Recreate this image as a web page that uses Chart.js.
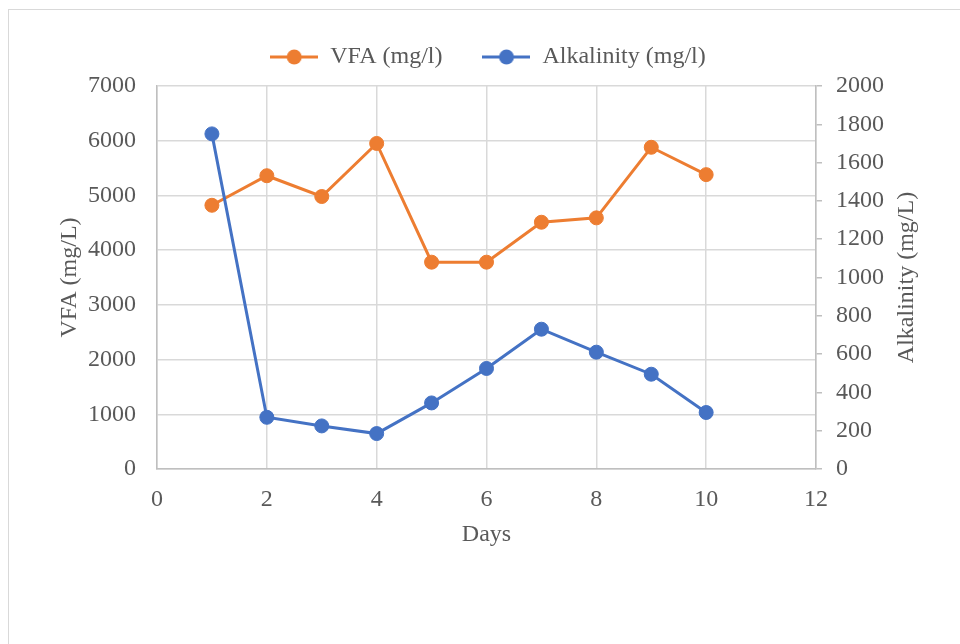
<!DOCTYPE html>
<html>
<head>
<meta charset="utf-8">
<script src="https://cdn.jsdelivr.net/npm/chart.js@4"></script>
<style>
  html, body { margin: 0; padding: 0; background: #fff; overflow: hidden; }
  #wrap { position: relative; width: 960px; height: 644px; }
  #frame { position: absolute; left: 8px; top: 9px; width: 980px; height: 660px;
           border: 1.5px solid #d9d9d9; box-sizing: border-box; }
  canvas { position: absolute; left: 0; top: 0; }
</style>
</head>
<body>
<div id="wrap">
  <div id="frame"></div>
  <canvas id="c" width="960" height="644"></canvas>
</div>
<script>
// Daily VFA and alkalinity readings
const days = [1, 2, 3, 4, 5, 6, 7, 8, 9, 10];
const vfa = [4820, 5360, 4980, 5950, 3780, 3780, 4510, 4590, 5880, 5380];
const alkalinity = [1750, 270, 225, 185, 345, 525, 730, 610, 495, 295];
const seriesNames = ['VFA (mg/l)', 'Alkalinity (mg/l)'];
const xTitle = 'Days';
const leftTitle = 'VFA (mg/L)';
const rightTitle = 'Alkalinity (mg/L)';

const ORANGE = '#ED7D31';
const BLUE = '#4472C4';
const TEXT = '#595959';
const GRID = '#d9d9d9';
const AXIS = '#bfbfbf';
const FONT = '"Liberation Serif", "Times New Roman", serif';
const SIZE = 24;

// Legend symbol: a short line with a dot in the middle
function legendMark(color) {
  const c = document.createElement('canvas');
  c.width = 48; c.height = 18;
  const g = c.getContext('2d');
  g.strokeStyle = color; g.lineWidth = 3;
  g.beginPath(); g.moveTo(0, 9); g.lineTo(48, 9); g.stroke();
  g.fillStyle = color;
  g.beginPath(); g.arc(24, 9, 7.5, 0, Math.PI * 2); g.fill();
  return c;
}
const marks = [legendMark(ORANGE), legendMark(BLUE)];

// Right-hand axis title reads bottom-to-top
const rightTitlePlugin = {
  id: 'rightTitle',
  afterDraw(chart) {
    const s = chart.scales.y1;
    const area = chart.chartArea;
    const ctx = chart.ctx;
    ctx.save();
    ctx.translate(s.right - 17.4, (area.top + area.bottom) / 2);
    ctx.rotate(-Math.PI / 2);
    ctx.font = SIZE + 'px ' + FONT;
    ctx.fillStyle = TEXT;
    ctx.textAlign = 'center';
    ctx.textBaseline = 'middle';
    ctx.fillText(rightTitle, 0, 0);
    ctx.restore();
  }
};

const toPoints = (vals) => vals.map((v, i) => ({ x: days[i], y: v }));
const plain = (v) => String(v);

new Chart(document.getElementById('c'), {
  type: 'line',
  data: {
    datasets: [
      {
        label: seriesNames[0],
        data: toPoints(vfa),
        yAxisID: 'y',
        borderColor: ORANGE,
        backgroundColor: ORANGE,
        borderWidth: 3,
        pointRadius: 7,
        pointBorderWidth: 1,
        pointHoverRadius: 7,
        order: 2
      },
      {
        label: seriesNames[1],
        data: toPoints(alkalinity),
        yAxisID: 'y1',
        borderColor: BLUE,
        backgroundColor: BLUE,
        borderWidth: 3,
        pointRadius: 7,
        pointBorderWidth: 1,
        pointHoverRadius: 7,
        order: 1
      }
    ]
  },
  options: {
    responsive: false,
    animation: false,
    layout: { padding: { left: 51.6, right: 35.6, top: 5, bottom: 90.6 } },
    plugins: {
      tooltip: { enabled: false },
      legend: {
        position: 'top',
        labels: {
          usePointStyle: true,
          pointStyleWidth: 48,
          padding: 40,
          color: TEXT,
          font: { family: FONT, size: SIZE },
          generateLabels(chart) {
            const items = Chart.defaults.plugins.legend.labels.generateLabels(chart);
            items.sort((a, b) => a.datasetIndex - b.datasetIndex);
            items.forEach((it) => { it.pointStyle = marks[it.datasetIndex]; });
            return items;
          }
        }
      }
    },
    scales: {
      x: {
        type: 'linear',
        min: 0,
        max: 12,
        ticks: { stepSize: 2, color: TEXT, font: { family: FONT, size: SIZE }, padding: 16, callback: plain },
        grid: { color: GRID, lineWidth: 1.5, drawTicks: false },
        border: { display: true, color: AXIS, width: 1.5 },
        title: { display: true, text: xTitle, color: TEXT, font: { family: FONT, size: SIZE } },
        afterFit(s) { s.height = 84.4; }
      },
      // spacer between the legend and the plot
      xTop: {
        type: 'linear',
        position: 'top',
        min: 0,
        max: 12,
        grid: { display: false },
        ticks: { display: false },
        border: { display: false },
        afterFit(s) { s.height = 7; }
      },
      y: {
        position: 'left',
        min: 0,
        max: 7000,
        ticks: { stepSize: 1000, color: TEXT, font: { family: FONT, size: SIZE }, padding: 21, callback: plain },
        grid: { color: GRID, lineWidth: 1.5, drawTicks: false },
        border: { display: true, color: AXIS, width: 1.5 },
        title: { display: true, text: leftTitle, color: TEXT, font: { family: FONT, size: SIZE } },
        afterFit(s) { s.width = 105.4; }
      },
      y1: {
        position: 'right',
        min: 0,
        max: 2000,
        ticks: { stepSize: 200, color: TEXT, font: { family: FONT, size: SIZE }, padding: 14, callback: plain },
        grid: { drawOnChartArea: false, color: AXIS, lineWidth: 1.5, drawTicks: true, tickLength: 6 },
        border: { display: true, color: AXIS, width: 1.5 },
        afterFit(s) { s.width = 108.4; }
      }
    }
  },
  plugins: [rightTitlePlugin]
});
</script>
</body>
</html>
